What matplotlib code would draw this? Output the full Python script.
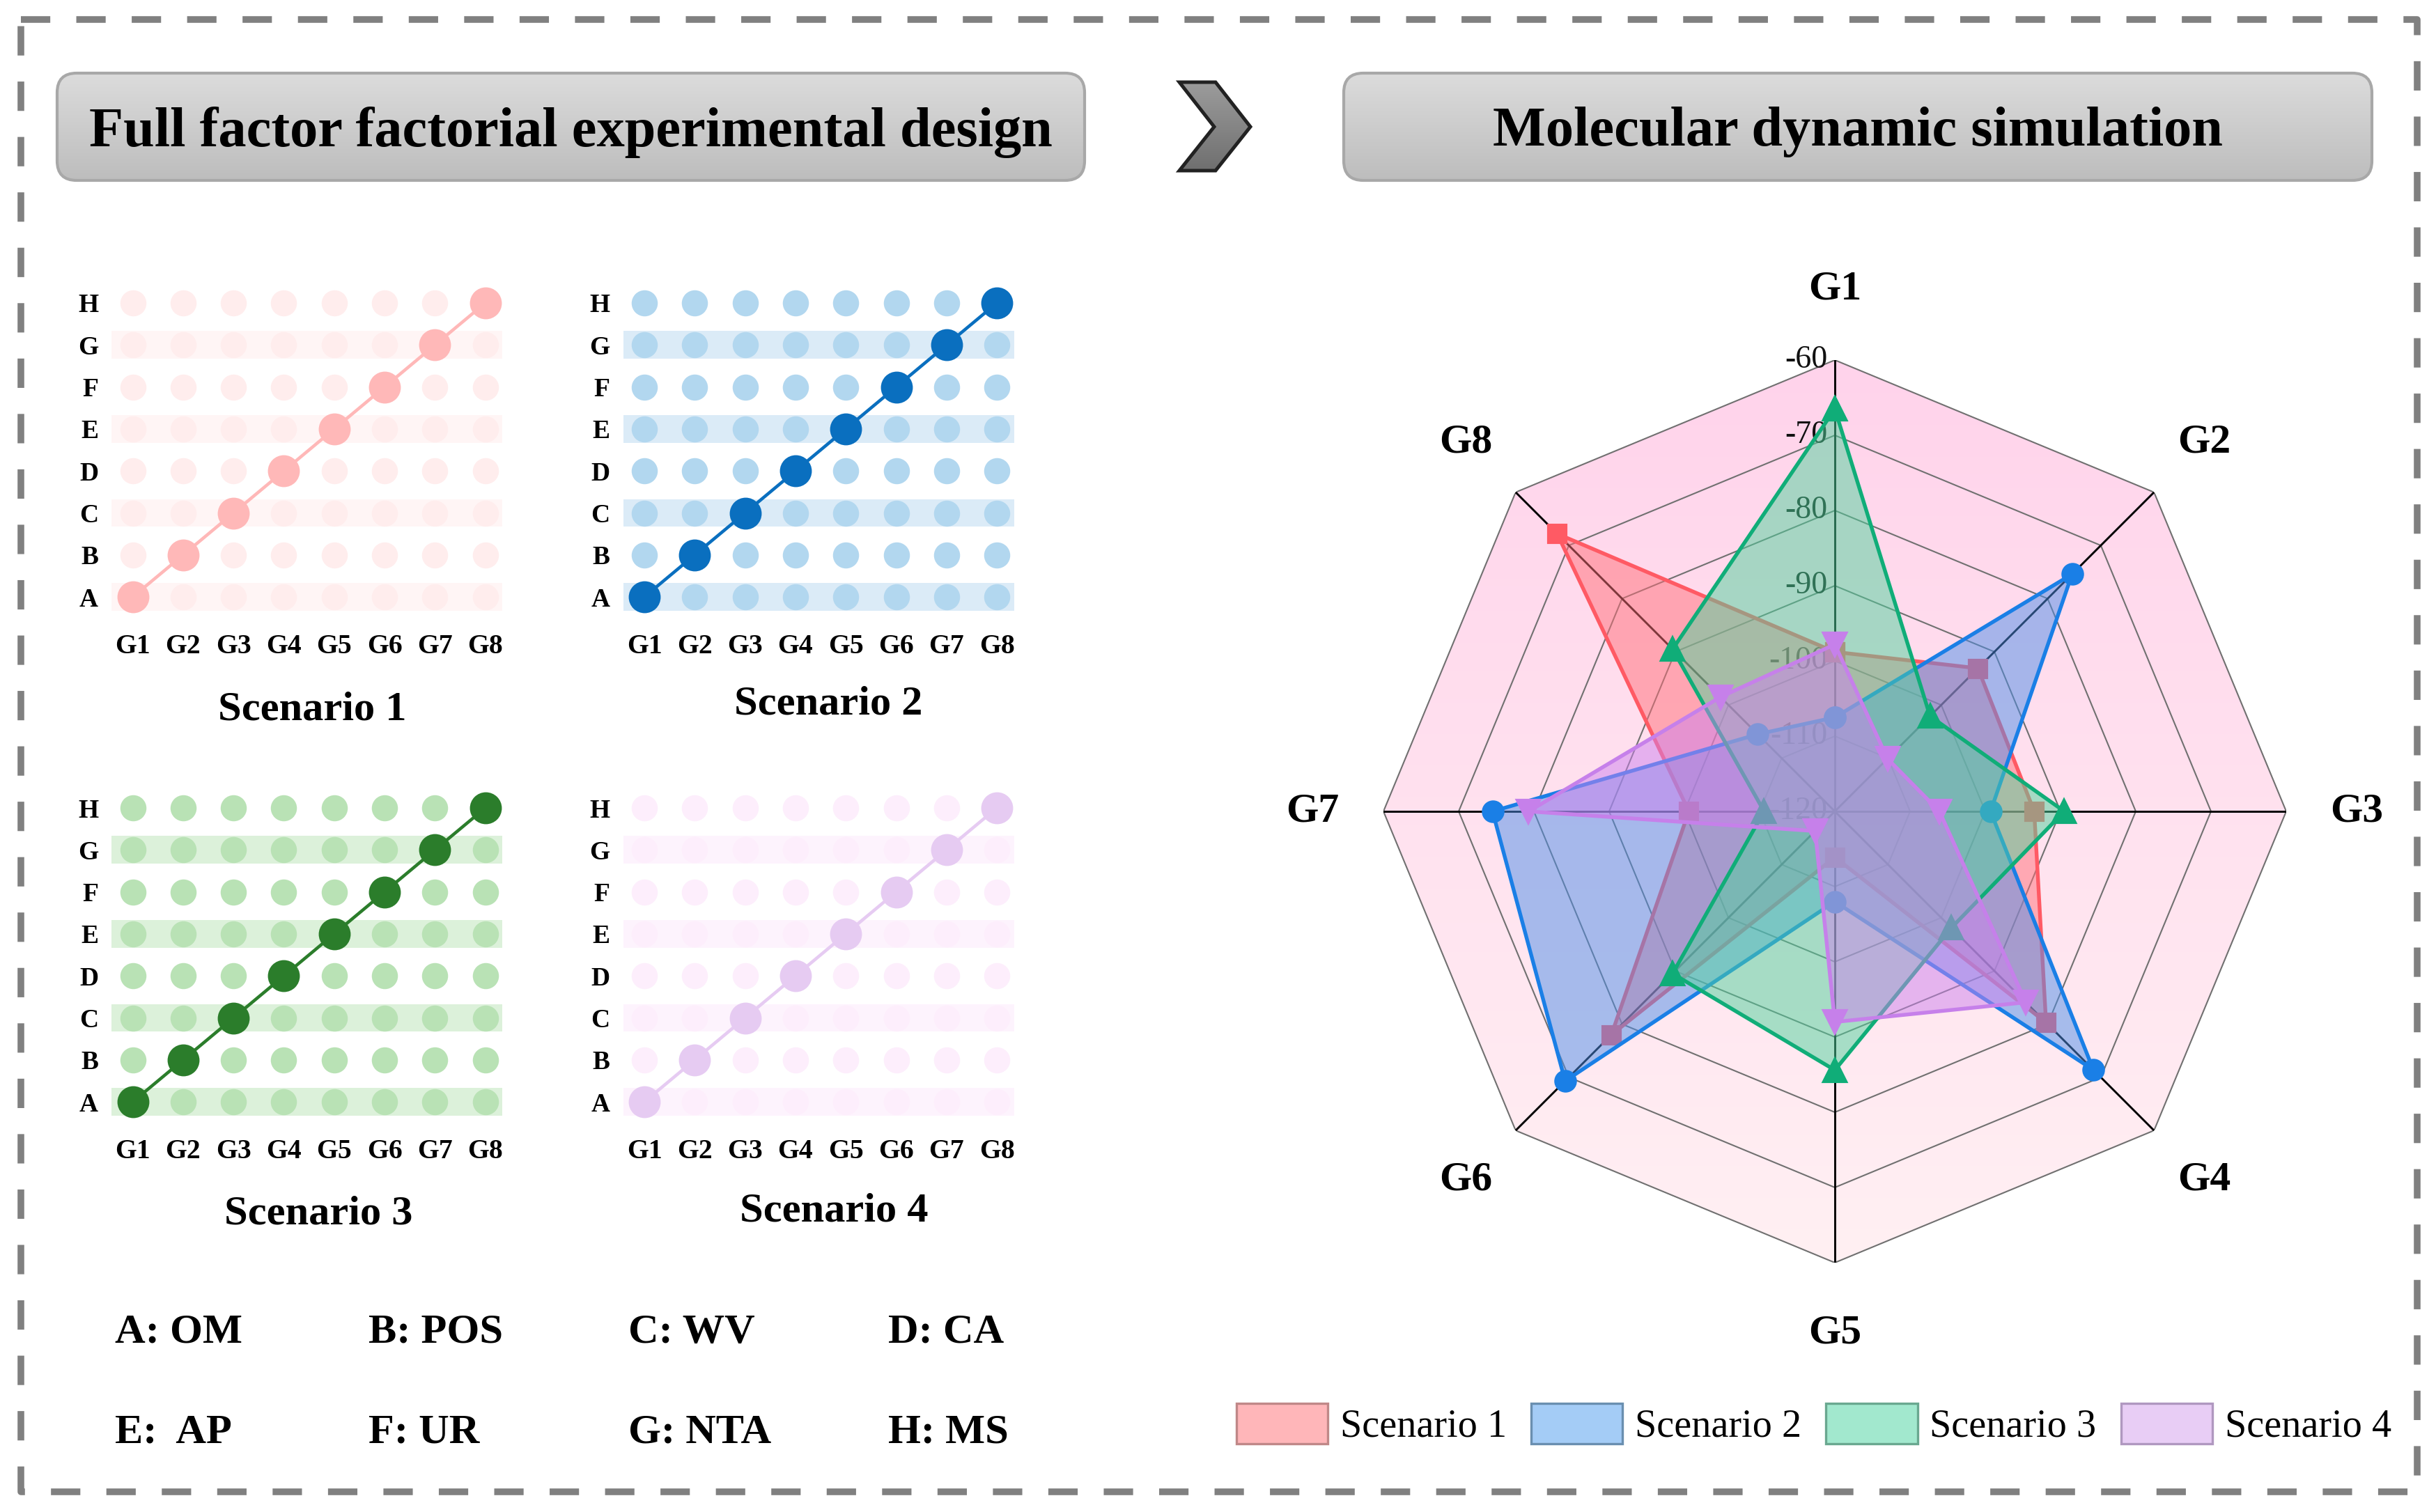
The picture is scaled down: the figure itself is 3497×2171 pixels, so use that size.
import numpy as np
import matplotlib
matplotlib.use("Agg")
import matplotlib.pyplot as plt
import matplotlib.transforms as mtransforms
from matplotlib.patches import FancyBboxPatch, Polygon, Patch
from matplotlib.colors import LinearSegmentedColormap

plt.rcParams['font.family'] = ['Liberation Serif', 'DejaVu Serif']

W, H = 3497, 2171
DPI = 300

# ---- data ----
groups = ["G1", "G2", "G3", "G4", "G5", "G6", "G7", "G8"]
factors = ["A", "B", "C", "D", "E", "F", "G", "H"]
chosen = [0, 1, 2, 3, 4, 5, 6, 7]          # factor picked in each group
scenarios = ["Scenario 1", "Scenario 2", "Scenario 3", "Scenario 4"]
factor_names = ["A: OM", "B: POS", "C: WV", "D: CA", "E:  AP", "F: UR", "G: NTA", "H: MS"]

s1 = [-98.8, -93.1, -93.5, -80.3, -113.9, -78.0, -100.6, -67.8]
s2 = [-107.5, -75.4, -99.3, -71.4, -108.0, -69.3, -74.5, -105.5]
s3 = [-66.5, -102.1, -89.5, -98.1, -85.6, -89.5, -110.6, -89.5]
s4 = [-97.8, -110.1, -106.1, -84.1, -92.0, -116.3, -79.3, -98.5]
r_ticks = [-120, -110, -100, -90, -80, -70, -60]

fig = plt.figure(figsize=(W / DPI, H / DPI), dpi=DPI)


def px_axes(x0, y0, x1, y1, **kw):
    return fig.add_axes([x0 / W, 1 - y1 / H, (x1 - x0) / W, (y1 - y0) / H], **kw)


# canvas in pixel coordinates for the decoration
cv = fig.add_axes([0, 0, 1, 1], zorder=-5)
cv.axis("off")


def gradient(patch, top, bottom, x0, x1, y0, y1):
    cv.add_patch(patch)
    cmap = LinearSegmentedColormap.from_list("g", [top, bottom])
    im = cv.imshow(np.linspace(0, 1, 256).reshape(-1, 1), cmap=cmap, origin="upper",
                   extent=(x0, x1, y1, y0), aspect="auto", interpolation="bilinear", zorder=1)
    im.set_clip_path(patch)


# dashed frame
cv.plot([30, 3470, 3470, 30, 30], [28, 28, 2142, 2142, 28], color="#808080", lw=2.3,
        dashes=(4.4, 3.9), zorder=1)

# header boxes
for (x0, x1, title) in [(82, 1557, "Full factor factorial experimental design"),
                        (1929, 3405, "Molecular dynamic simulation")]:
    box = FancyBboxPatch((x0, 105), x1 - x0, 154, boxstyle="round,pad=0,rounding_size=28",
                         fc="none", ec="#a8a8a8", lw=1.0, zorder=2)
    gradient(box, "#dcdcdc", "#bdbdbd", x0, x1, 105, 259)
    cv.text((x0 + x1) / 2, 190, title, ha="center", va="center", fontsize=19.3,
            weight="bold", zorder=3)

# chevron
chev = Polygon([(1693, 118), (1745, 118), (1795, 182), (1745, 245), (1693, 245), (1743, 182)],
               closed=True, fc="none", ec="#222222", lw=1.2, zorder=2)
gradient(chev, "#9c9c9c", "#6f6f6f", 1693, 1795, 118, 245)

# ---- scenario grids ----
grid_x = [190.6, 925, 190.6, 925]
grid_y = [435, 435, 1160, 1160]
DX, DY = 72.3, 60.3
hi_cols = ["#ffb8b8", "#0a6fbf", "#2b7d2b", "#e6cbf2"]
dot_cols = ["#ffeded", "#b2d7ef", "#b9e2b5", "#fdeefc"]
band_cols = ["#fff5f5", "#dbebf7", "#dcf1da", "#fdf3fd"]
title_pos = [(448, 1019), (1189, 1012), (457, 1743), (1197, 1740)]

xx, yy = np.meshgrid(np.arange(len(groups)), np.arange(len(factors)))
for k in range(4):
    left = grid_x[k] - DX / 2
    top = grid_y[k] - DY / 2
    ax = px_axes(left, top, left + 8 * DX, top + 8 * DY)
    ax.set_xlim(-0.5, 7.5)
    ax.set_ylim(-0.5, 7.5)
    for j in range(0, 8, 2):
        ax.axhspan(j - 0.33, j + 0.33, xmin=0.01, xmax=0.98, color=band_cols[k], lw=0, zorder=0)
    ax.scatter(xx.ravel(), yy.ravel(), s=81, color=dot_cols[k], lw=0, zorder=1)
    ax.plot(range(len(groups)), chosen, color=hi_cols[k], lw=1.1, marker="o", ms=10,
            zorder=3)
    ax.set_xticks(range(len(groups)))
    ax.set_xticklabels(groups, fontsize=9.5, weight="bold")
    ax.set_yticks(range(len(factors)))
    ax.set_yticklabels(factors, fontsize=9, weight="bold")
    ax.tick_params(length=0, pad=5.5, axis="x")
    ax.tick_params(length=0, pad=3.2, axis="y")
    for s in ax.spines.values():
        s.set_visible(False)
    cv.text(title_pos[k][0], title_pos[k][1], scenarios[k], ha="center", va="center",
            fontsize=14.5, weight="bold")

# factor legend text
col_x = [165, 529, 902, 1275]
row_y = [1914, 2057]
for i, name in enumerate(factor_names):
    cv.text(col_x[i % 4], row_y[i // 4], name, ha="left", va="center", fontsize=14.5,
            weight="bold")

# ---- radar ----
CX, CY, R = 2634, 1165, 648
oct_pts = [(CX + R * np.sin(a), CY - R * np.cos(a)) for a in np.arange(8) * np.pi / 4]
octagon = Polygon(oct_pts, closed=True, fc="none", ec="none", zorder=1)
gradient(octagon, "#ffd3eb", "#fff0f3", CX - R, CX + R, CY - R, CY + R)

rad = px_axes(CX - R, CY - R, CX + R, CY + R, projection="polar")
rad.set_theta_zero_location("N")
rad.set_theta_direction(-1)
rad.set_ylim(r_ticks[0], r_ticks[-1])
rad.grid(False)
rad.set_xticks([])
rad.set_yticks([])
rad.spines["polar"].set_visible(False)
rad.patch.set_visible(False)

angles = np.arange(len(groups)) * 2 * np.pi / len(groups)
ang_c = np.append(angles, angles[0])
for v in r_ticks[1:]:
    rad.plot(ang_c, [v] * len(ang_c), color="#707070", lw=0.5, zorder=1)
for a in angles:
    rad.plot([a, a], [r_ticks[0], r_ticks[-1]], color="black", lw=0.7, zorder=1)

lab_tr = mtransforms.offset_copy(rad.transData, fig=fig, x=-2.5, y=0, units="points")
for v in r_ticks:
    rad.text(0, v, str(v), transform=lab_tr, ha="right", va="center", fontsize=11,
             color="#111111", zorder=1.5)
for a, g in zip(angles, groups):
    rad.text(a, -50.6, g, ha="center", va="center", fontsize=14.3, weight="bold",
             clip_on=False)

line_cols = ["#ff5a64", "#1a7fe6", "#10ad78", "#c680ea"]
fill_cols = ["#ff6f78", "#4f8fe8", "#4fd39c", "#cd82ee"]
markers = ["s", "o", "^", "v"]
msizes = [6, 6.8, 7.6, 7.6]
for i, vals in enumerate([s1, s2, s3, s4]):
    v_c = np.append(vals, vals[0])
    rad.fill(ang_c, v_c, color=fill_cols[i], alpha=0.5, lw=0, zorder=2 + 2 * i)
    rad.plot(ang_c, v_c, color=line_cols[i], lw=1.3, marker=markers[i], ms=msizes[i],
             zorder=3 + 2 * i, clip_on=False)

leg_face = ["#ffb6b9", "#a4ccf6", "#a2e8ce", "#e8cdf5"]
leg_edge = ["#c08888", "#6a8fb0", "#6aa890", "#b098c0"]
handles = [Patch(facecolor=f, edgecolor=e, lw=0.8) for f, e in zip(leg_face, leg_edge)]
fig.legend(handles, scenarios, loc="center", bbox_to_anchor=(2604 / W, 1 - 2045 / H), ncol=4,
           frameon=False, fontsize=13.5, handlelength=2.33, handleheight=1.2,
           handletextpad=0.32, columnspacing=0.62)

cv.set_xlim(0, W)
cv.set_ylim(H, 0)

fig.savefig("out.png", dpi=DPI)
